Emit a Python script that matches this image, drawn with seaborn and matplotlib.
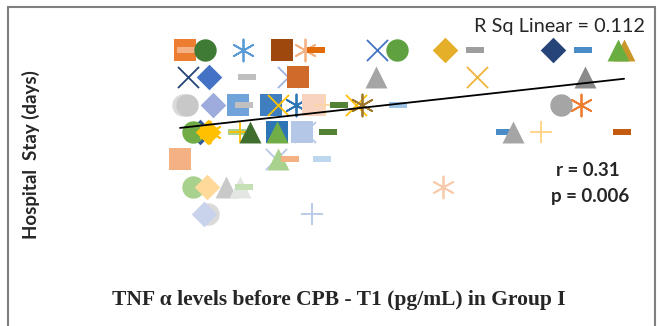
import numpy as np
import pandas as pd
import matplotlib.pyplot as plt
from matplotlib.lines import Line2D
import seaborn as sns

# TNF alpha (pg/mL) and hospital stay (days), one point per patient
tnf = [8.5, 8.6, 10.5, 14.3, 18.2, 20.5, 21.6, 27.7, 29.7, 34.5, 37.5, 45.3, 48.3, 52.4, 51.8,
       8.8, 10.9, 14.7, 18.8, 19.8, 27.6, 37.7, 48.5,
       8.3, 8.7, 11.3, 13.8, 14.4, 17.1, 17.8, 19.6, 21.3, 22.5, 23.9, 25.6, 26.2, 29.8, 46.1, 48.1,
       10.0, 9.3, 10.8, 11.0, 13.7, 14.0, 15.0, 17.7, 17.7, 20.2, 20.5, 22.8, 40.5, 41.3, 44.1, 52.2,
       8.0, 17.6, 17.8, 19.0, 22.2,
       9.3, 10.7, 12.6, 14.0, 14.4, 34.3,
       10.8, 10.4, 21.2]
stay = [11] * 15 + [10] * 8 + [9] * 16 + [8] * 16 + [7] * 5 + [6] * 6 + [5] * 3

shape = ['sq', 'dash', 'o', 'ast', 'sq', 'ast', 'dash', 'x', 'o', 'D', 'dash', 'D', 'dash', '^', '^',
         'x', 'D', 'dash', 'x', 'sq', '^', 'x', '^',
         'o', 'o', 'D', 'sq', 'dash', 'sq', 'x', 'ast', 'sq', '+', 'dash', 'x', 'ast', 'dash', 'o', 'ast',
         'D', 'o', 'D', 'ast', 'dash', '+', '^', 'sq', '^', 'sq', 'x', 'dash', 'dash', '^', '+', 'dash',
         'sq', 'x', '^', 'dash', 'dash',
         'o', 'D', '^', '^', 'dash', 'ast',
         'o', 'D', '+']
color = ['#ED7D31', '#F4B183', '#3F7B35', '#5B9BD5', '#9E480E', '#F4B183', '#E36C0A', '#4472C4',
         '#5FA040', '#E6AF2A', '#9E9E9E', '#264478', '#4A8CC8', '#C9962A', '#6AAE42',
         '#264478', '#4472C4', '#BFBFBF', '#9DB4E0', '#D06A2B', '#A5A5A5', '#F0B43C', '#8A8A8A',
         '#DADADA', '#C8C8C8', '#9DABDD', '#6FA3DA', '#C0C0C0', '#3F7FBF', '#FFC000', '#2E75B6',
         '#F8D3C0', '#FBD6A5', '#548235', '#FFC000', '#A0782B', '#9DC3E6', '#A5A5A5', '#ED7D31',
         '#2F5597', '#70AD47', '#FFC000', '#FFC000', '#A9D18E', '#FFC000', '#3F6E2F', '#2E75B6',
         '#70AD47', '#B4C7E7', '#B4C7E7', '#548235', '#4A8CC8', '#A5A5A5', '#FFD280', '#C55A11',
         '#F4B183', '#B4C7E7', '#A9D18E', '#F4B183', '#BDD7EE',
         '#A9D18E', '#FFD99A', '#C9C9C9', '#E2E7E2', '#C5E0B4', '#F8CBAD',
         '#DADADA', '#C9D3EC', '#B4C7E7']

r_sq = 0.112
r_val = 0.31
p_val = 0.006

df = pd.DataFrame({'tnf': tnf, 'stay': stay, 'shape': shape, 'color': color})

dash = [(-1, -0.32), (1, -0.32), (1, 0.32), (-1, 0.32), (-1, -0.32)]
marker_map = {'sq': 's', 'o': 'o', 'D': 'D', '^': '^', 'dash': dash,
              'x': 'x', '+': '+', 'ast': (6, 2, 0)}
size_map = {'sq': 230, 'o': 260, 'D': 170, '^': 250, 'dash': 150,
            'x': 230, '+': 230, 'ast': 250}
filled = ['sq', 'o', 'D', '^', 'dash']

sns.set_style('white')
fig = plt.figure(figsize=(6.58, 3.26), dpi=100)
ax = fig.add_axes([0.152, 0.218, 0.836, 0.754])

for i, row in df.iterrows():
    sub = df.loc[[i]]
    lw = 0 if row['shape'] in filled else 1.3
    sns.scatterplot(data=sub, x='tnf', y='stay', marker=marker_map[row['shape']],
                    color=row['color'], s=size_map[row['shape']], linewidth=lw,
                    legend=False, ax=ax)

sns.regplot(data=df, x='tnf', y='stay', scatter=False, ci=None, truncate=True,
            color='black', line_kws={'lw': 1.3}, ax=ax)

ax.set_xlim(0, 55)
ax.set_ylim(3.5, 12.5)
ax.set_xticks([])
ax.set_yticks([])
ax.set_xlabel('')
ax.set_ylabel('')
sns.despine(ax=ax, left=True, bottom=True)

fig.text(0.980, 0.902, f'R Sq Linear = {r_sq}', ha='right', va='baseline',
         fontsize=14.3, family='Lato')
fig.text(0.893, 0.478, f'r = {r_val}', ha='center', va='center',
         fontsize=13.5, fontweight='bold', family='Lato')
fig.text(0.897, 0.398, f'p = {p_val}', ha='center', va='center',
         fontsize=13.5, fontweight='bold', family='Lato')
fig.text(0.047, 0.525, 'Hospital  Stay (days)', rotation=90, ha='center', va='center',
         fontsize=13.5, fontweight='bold', family='Lato')
fig.text(0.515, 0.08, 'TNF \u03b1 levels before CPB - T1 (pg/mL) in Group I', ha='center',
         va='center', fontsize=15.5, fontweight='bold', family='Liberation Serif')

# outer frame of the figure (no bottom edge)
for xs, ys in [([0.012, 0.012], [0, 0.978]), ([0.012, 0.996], [0.978, 0.978]),
               ([0.996, 0.996], [0.978, 0])]:
    fig.add_artist(Line2D(xs, ys, color='#7F7F7F', lw=1.5))

fig.savefig('out.png', dpi=100)
